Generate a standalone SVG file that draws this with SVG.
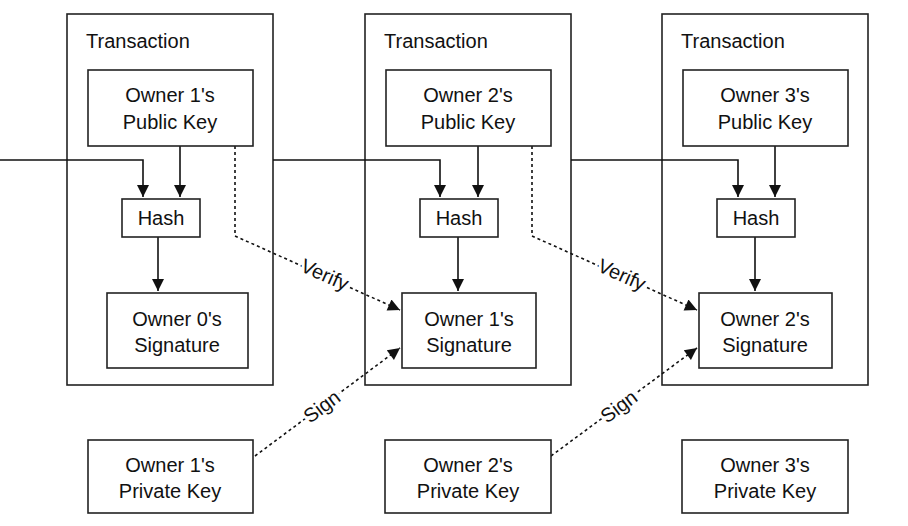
<svg xmlns="http://www.w3.org/2000/svg" width="908" height="526" viewBox="0 0 908 526">
<style>
rect{fill:#fff;stroke:#222;stroke-width:1.6}
text{font-family:"Liberation Sans",Arial,sans-serif;font-size:20px;fill:#111;text-anchor:middle}
.t{text-anchor:start}
.c line,.c path{stroke:#111;stroke-width:1.6;fill:none}
.d{stroke-dasharray:3 3}
.lbl{stroke:#fff;stroke-width:6;paint-order:stroke}
</style>
<defs><marker id="a" viewBox="0 0 10 10" refX="10" refY="5" markerWidth="8" markerHeight="8" orient="auto" markerUnits="userSpaceOnUse"><path d="M0,0L10,5L0,10z" fill="#111"/></marker>
<marker id="b" viewBox="0 0 10 10" refX="10" refY="5" markerWidth="14" markerHeight="12" orient="auto" markerUnits="userSpaceOnUse"><path d="M0,0L10,5L0,10z" fill="#111"/></marker></defs>
<rect width="908" height="526" style="stroke:none"/>
<g id="tx1"><rect x="67" y="14" width="206" height="371"/><text class="t" x="86" y="48">Transaction</text></g>
<g id="tx2"><rect x="365" y="14" width="206" height="371"/><text class="t" x="384" y="48">Transaction</text></g>
<g id="tx3"><rect x="662" y="14" width="206" height="371"/><text class="t" x="681" y="48">Transaction</text></g>
<g class="c">
<path d="M0,160H143V197" marker-end="url(#b)"/>
<path d="M273,160H440V197" marker-end="url(#b)"/>
<path d="M571,160H738V197" marker-end="url(#b)"/>
<line x1="180" y1="146" x2="180" y2="197" marker-end="url(#b)"/>
<line x1="478" y1="146" x2="478" y2="197" marker-end="url(#b)"/>
<line x1="775" y1="146" x2="775" y2="197" marker-end="url(#b)"/>
<line x1="158" y1="237" x2="158" y2="291" marker-end="url(#b)"/>
<line x1="458" y1="237" x2="458" y2="291" marker-end="url(#b)"/>
<line x1="755" y1="237" x2="755" y2="291" marker-end="url(#b)"/>
<path class="d" d="M235,146V236L400,310" marker-end="url(#b)"/>
<path class="d" d="M532,146V236L697,310" marker-end="url(#b)"/>
<line class="d" x1="255" y1="456" x2="400" y2="348" marker-end="url(#b)"/>
<line class="d" x1="551" y1="456" x2="697" y2="348" marker-end="url(#b)"/>
<text class="lbl" transform="translate(322,281) rotate(24)">Verify</text>
<text class="lbl" transform="translate(619,281) rotate(24)">Verify</text>
<text class="lbl" transform="translate(326,412) rotate(-37)">Sign</text>
<text class="lbl" transform="translate(623,412) rotate(-37)">Sign</text>
</g>
<g id="pub1"><rect x="88" y="70" width="165" height="76"/><text x="170" y="102">Owner 1's</text><text x="170" y="129">Public Key</text></g>
<g id="pub2"><rect x="386" y="70" width="165" height="76"/><text x="468" y="102">Owner 2's</text><text x="468" y="129">Public Key</text></g>
<g id="pub3"><rect x="683" y="70" width="165" height="76"/><text x="765" y="102">Owner 3's</text><text x="765" y="129">Public Key</text></g>
<g id="hash1"><rect x="122" y="199" width="78" height="38"/><text x="161" y="225">Hash</text></g>
<g id="hash2"><rect x="420" y="199" width="78" height="38"/><text x="459" y="225">Hash</text></g>
<g id="hash3"><rect x="717" y="199" width="78" height="38"/><text x="756" y="225">Hash</text></g>
<g id="sig0"><rect x="107" y="293" width="141" height="75"/><text x="177" y="326">Owner 0's</text><text x="177" y="352">Signature</text></g>
<g id="sig1"><rect x="402" y="293" width="134" height="75"/><text x="469" y="326">Owner 1's</text><text x="469" y="352">Signature</text></g>
<g id="sig2"><rect x="699" y="293" width="133" height="75"/><text x="765" y="326">Owner 2's</text><text x="765" y="352">Signature</text></g>
<g id="priv1"><rect x="88" y="440" width="165" height="73"/><text x="170" y="472">Owner 1's</text><text x="170" y="498">Private Key</text></g>
<g id="priv2"><rect x="385" y="440" width="166" height="73"/><text x="468" y="472">Owner 2's</text><text x="468" y="498">Private Key</text></g>
<g id="priv3"><rect x="682" y="440" width="166" height="73"/><text x="765" y="472">Owner 3's</text><text x="765" y="498">Private Key</text></g>
</svg>
